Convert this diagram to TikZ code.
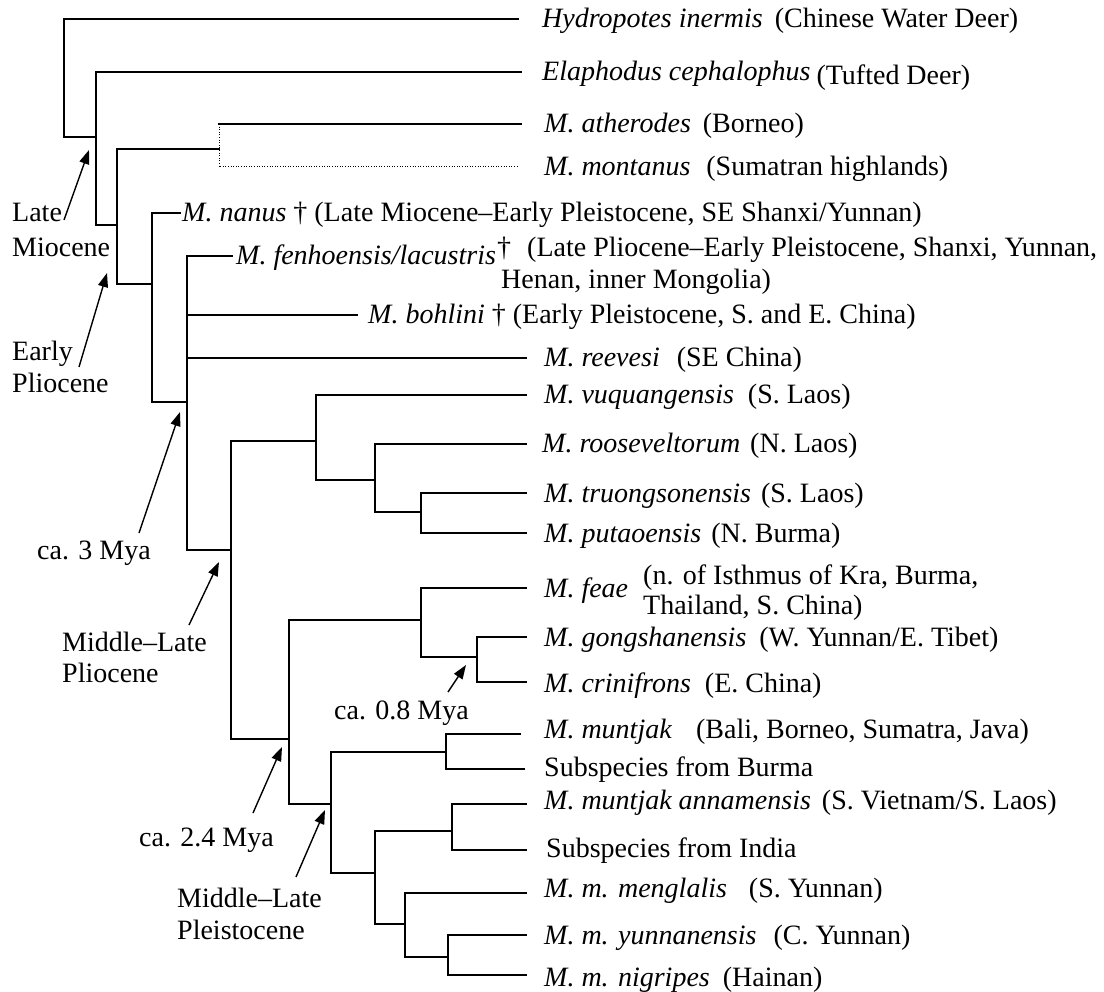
\documentclass[tikz,border=0pt]{standalone}
\usepackage{fontspec}
\setmainfont{Liberation Serif}
\usetikzlibrary{arrows.meta}

\begin{document}
\begin{tikzpicture}[
    x=1pt, y=-1pt,
    every node/.style = {font=\fontsize{28}{34}\selectfont},
    tree/.style    = {draw=black, line width=1.6pt, line cap=rect},
    dotline/.style = {draw=black, line width=1pt, dash pattern=on 1pt off 1.6pt},
    leaf/.style    = {anchor=base west, inner sep=0pt},
    era/.style     = {anchor=base west, inner sep=0pt},
    arr/.style     = {-{Triangle[length=14pt, width=10pt]}, line width=1.4pt},
]
\useasboundingbox (0,0) rectangle (1104,992);

% internal nodes (vertical bar x, stem y)
\coordinate (root)   at (64,137);
\coordinate (cervA)  at (96,137);
\coordinate (muntA)  at (117,225);
\coordinate (athMon) at (219,149);
\coordinate (muntB)  at (152,284);
\coordinate (muntC)  at (187,402);
\coordinate (crown)  at (231,550);
\coordinate (laos)   at (316,441);
\coordinate (laosB)  at (375,480);
\coordinate (laosC)  at (421,512);
\coordinate (south)  at (289,739);
\coordinate (feaeC)  at (421,620);
\coordinate (gongC)  at (477,657);
\coordinate (muntjC) at (331,804);
\coordinate (baliC)  at (446,752);
\coordinate (mmA)    at (375,873);
\coordinate (annC)   at (452,831);
\coordinate (mmB)    at (405,924);
\coordinate (yunC)   at (448,957);

% branch tips
\coordinate (tHyd) at (518,19);
\coordinate (tEla) at (521,72);
\coordinate (tAth) at (521,124);
\coordinate (tMon) at (518,167);
\coordinate (tNan) at (180,213);
\coordinate (tFen) at (232,256);
\coordinate (tBoh) at (357,315);
\coordinate (tRee) at (526,358);
\coordinate (tVuq) at (526,395);
\coordinate (tRoo) at (526,444);
\coordinate (tTru) at (526,493);
\coordinate (tPut) at (526,533);
\coordinate (tFea) at (526,588);
\coordinate (tGon) at (526,637);
\coordinate (tCri) at (526,682);
\coordinate (tMun) at (520,734);
\coordinate (tBur) at (524,769);
\coordinate (tAnn) at (526,804);
\coordinate (tInd) at (526,850);
\coordinate (tMen) at (526,893);
\coordinate (tYun) at (526,935);
\coordinate (tNig) at (526,975);

% outgroups
\draw[tree] (root) |- (tHyd);
\draw[tree] (root) -- (cervA) |- (tEla);
\draw[tree] (cervA) |- (muntA);

% atherodes / montanus
\draw[tree] (muntA) |- (athMon);
\draw[tree] (athMon |- tAth) -- (tAth);
\draw[dotline] (athMon |- tAth) -- (athMon |- tMon) -- (tMon);

% fossil taxa and reevesi
\draw[tree] (muntA) |- (muntB);
\draw[tree] (muntB) |- (tNan);
\draw[tree] (muntB) |- (muntC);
\draw[tree] (muntC) |- (tFen);
\draw[tree] (muntC) |- (tBoh);
\draw[tree] (muntC) |- (tRee);
\draw[tree] (muntC) |- (crown);

% Laos / Burma group
\draw[tree] (crown) |- (laos);
\draw[tree] (laos) |- (tVuq);
\draw[tree] (laos) |- (laosB);
\draw[tree] (laosB) |- (tRoo);
\draw[tree] (laosB) |- (laosC);
\draw[tree] (laosC) |- (tTru);
\draw[tree] (laosC) |- (tPut);

% feae group
\draw[tree] (crown) |- (south);
\draw[tree] (south) |- (feaeC);
\draw[tree] (feaeC) |- (tFea);
\draw[tree] (feaeC) |- (gongC);
\draw[tree] (gongC) |- (tGon);
\draw[tree] (gongC) |- (tCri);

% muntjak group
\draw[tree] (south) |- (muntjC);
\draw[tree] (muntjC) |- (baliC);
\draw[tree] (baliC) |- (tMun);
\draw[tree] (baliC) |- (tBur);
\draw[tree] (muntjC) |- (mmA);
\draw[tree] (mmA) |- (annC);
\draw[tree] (annC) |- (tAnn);
\draw[tree] (annC) |- (tInd);
\draw[tree] (mmA) |- (mmB);
\draw[tree] (mmB) |- (tMen);
\draw[tree] (mmB) |- (yunC);
\draw[tree] (yunC) |- (tYun);
\draw[tree] (yunC) |- (tNig);

% taxon labels
\node[leaf] (lHyd) at (542,28)  {\textit{Hydropotes inermis}\hspace{12pt}(Chinese Water Deer)};
\node[leaf] (lEla) at (542,81)  {\textit{Elaphodus cephalophus}\hspace{6pt}\raisebox{-4pt}{(Tufted Deer)}};
\node[leaf] (lAth) at (544,133) {\textit{M. atherodes}\hspace{12pt}(Borneo)};
\node[leaf] (lMon) at (544,176) {\textit{M. montanus}\hspace{16pt}(Sumatran highlands)};
\node[leaf] (lNan) at (182,222) {\textit{M. nanus} † (Late Miocene–Early Pleistocene, SE Shanxi/Yunnan)};
\node[leaf] (lFen) at (236,265) {\textit{M. fenhoensis/lacustris}};
\node[leaf] (lFenA) at (497,257) {†\hspace{16pt}(Late Pliocene–Early Pleistocene, Shanxi, Yunnan,};
\node[leaf] (lFenB) at (501,289) {Henan, inner Mongolia)};
\node[leaf] (lBoh) at (368,324) {\textit{M. bohlini} † (Early Pleistocene, S. and E. China)};
\node[leaf] (lRee) at (544,367) {\textit{M. reevesi}\hspace{17pt}(SE China)};
\node[leaf] (lVuq) at (544,404) {\textit{M. vuquangensis}\hspace{14pt}(S. Laos)};
\node[leaf] (lRoo) at (542,453) {\textit{M. rooseveltorum}\hspace{10pt}(N. Laos)};
\node[leaf] (lTru) at (544,502) {\textit{M. truongsonensis}\hspace{10pt}(S. Laos)};
\node[leaf] (lPut) at (544,542) {\textit{M. putaoensis}\hspace{10pt}(N. Burma)};
\node[leaf] (lFea) at (544,597) {\textit{M. feae}};
\node[leaf] (lFeaA) at (643,584) {(n. of Isthmus of Kra, Burma,};
\node[leaf] (lFeaB) at (643,614) {Thailand, S. China)};
\node[leaf] (lGon) at (544,646) {\textit{M. gongshanensis}\hspace{13pt}(W. Yunnan/E. Tibet)};
\node[leaf] (lCri) at (544,692) {\textit{M. crinifrons}\hspace{14pt}(E. China)};
\node[leaf] (lMun) at (544,738) {\textit{M. muntjak}\hspace{24pt}(Bali, Borneo, Sumatra, Java)};
\node[leaf] (lBur) at (544,776) {Subspecies from Burma};
\node[leaf] (lAnn) at (544,809) {\textit{M. muntjak annamensis}\hspace{11pt}(S. Vietnam/S. Laos)};
\node[leaf] (lInd) at (546,857) {Subspecies from India};
\node[leaf] (lMen) at (544,897) {\textit{M. m. menglalis}\hspace{22pt}(S. Yunnan)};
\node[leaf] (lYun) at (544,944) {\textit{M. m. yunnanensis}\hspace{17pt}(C. Yunnan)};
\node[leaf] (lNig) at (544,986) {\textit{M. m. nigripes}\hspace{13pt}(Hainan)};

% divergence times
\node[era] (lateMio1) at (12,222)  {Late};
\node[era] (lateMio2) at (12,257)  {Miocene};
\node[era] (earlyPl1) at (12,361)  {Early};
\node[era] (earlyPl2) at (12,393)  {Pliocene};
\node[era] (three)    at (37,559)  {ca. 3 Mya};
\node[era] (midPl1)   at (62,651)  {Middle–Late};
\node[era] (midPl2)   at (62,682)  {Pliocene};
\node[era] (zeroEight) at (334,719) {ca. 0.8 Mya};
\node[era] (twoFour)  at (139,846) {ca. 2.4 Mya};
\node[era] (midPs1)   at (177,907) {Middle–Late};
\node[era] (midPs2)   at (177,939) {Pleistocene};

% arrows to the dated nodes
\coordinate (a1s) at (64,220);  \coordinate (a1e) at (89,150);
\coordinate (a2s) at (79,367);  \coordinate (a2e) at (107,273);
\coordinate (a3s) at (139,533); \coordinate (a3e) at (180,412);
\coordinate (a4s) at (189,625); \coordinate (a4e) at (219,562);
\coordinate (a5s) at (448,692); \coordinate (a5e) at (466,665);
\coordinate (a6s) at (253,813); \coordinate (a6e) at (282,747);
\coordinate (a7s) at (296,877); \coordinate (a7e) at (325,810);
\draw[arr] (a1s) -- (a1e);
\draw[arr] (a2s) -- (a2e);
\draw[arr] (a3s) -- (a3e);
\draw[arr] (a4s) -- (a4e);
\draw[arr] (a5s) -- (a5e);
\draw[arr] (a6s) -- (a6e);
\draw[arr] (a7s) -- (a7e);

\end{tikzpicture}
\end{document}
